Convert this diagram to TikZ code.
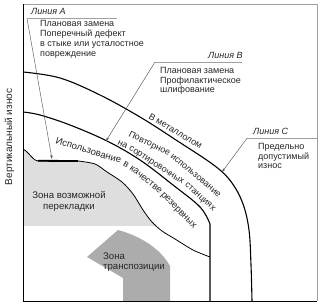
\documentclass[tikz,border=0pt]{standalone}
\usepackage{fontspec}
\setmainfont{Liberation Sans}
\usetikzlibrary{arrows.meta}
\newcommand{\fsz}{\fontsize{9}{10}\selectfont}
\newcommand{\fszb}{\fontsize{9}{9.3}\selectfont}
\newcommand{\fszc}{\fontsize{9.5}{10}\selectfont}
\definecolor{zonelight}{RGB}{222,222,222}
\definecolor{zonedark}{RGB}{172,172,172}
\definecolor{leadgray}{RGB}{85,85,85}
\definecolor{linegray}{RGB}{160,160,160}
\begin{document}
\begin{tikzpicture}[x=1pt,y=-1pt,
  lbl/.style={font=\fsz, inner sep=0pt, text=black!85},
  wd/.style={lbl, anchor=base west},
  wdc/.style={lbl, font=\fszc, anchor=base west},
  curve/.style={line width=1.1pt, line join=round},
  thincurve/.style={line width=0.8pt, line join=round},
  leader/.style={leadgray, line width=0.45pt, -{Stealth[length=4pt,width=2.4pt]}},
  uline/.style={linegray, line width=0.5pt}]
\useasboundingbox (0,0) rectangle (322,304);

% zones
\begin{scope}
  \clip (23,100) rectangle (320,225.5);
  \fill[zonelight] (23,149) .. controls (30,153) and (33,161) .. (38,161) -- (78,161)
    -- plot[smooth] coordinates {(78,161) (95,164) (107,172) (122,182) (133,194) (143,210) (152,222) (162,231) (175,239) (193,250) (210,257)}
    -- (210,300) -- (23,300) -- cycle;
\end{scope}
\fill[zonedark] (118,230) .. controls (140,236) and (160,248) .. (170,266) -- (170,301) -- (123,301) -- (123,278) -- (87,257) -- cycle;

% curves
\draw[curve] plot[smooth, tension=0.6] coordinates {(23,72) (60,78) (100,95) (140,117) (176,140) (215,166) (232,183) (243,204) (249,230) (251,265) (252,301)};
\draw[curve] plot[smooth, tension=0.6] coordinates {(23,112) (40,115) (70,125) (107,141) (140,160) (173,185) (200,207) (210,224)} -- (210,301);
\draw[thincurve] (23,149) .. controls (30,153) and (33,161) .. (38,161) -- (78,161)
    -- plot[smooth] coordinates {(78,161) (95,164) (107,172) (122,182) (133,194) (143,210) (152,222) (162,231) (175,239) (193,250) (210,257)};
\draw[line width=1.8pt] (38,160.8) -- (78,161);

% frame
\draw[linegray, line width=0.6pt] (23,4.5) -- (317,4.5) -- (317,301);
\draw[line width=1pt] (23,4.5) -- (23,301.5) -- (317,301.5);

% labels along the curves
\node[wd, rotate=-31] (scrap) at (148,118) {В металлолом};
\node[wd, rotate=-26] (reuse1) at (128,136) {Повторное};
\node[wd, rotate=-40] (reuse2) at (170,157) {использование};
\node[wd, rotate=-27] (sort1) at (117,144) {на};
\node[wd, rotate=-33] (sort2) at (128.5,149.5) {сортировочных};
\node[wd, rotate=-42] (sort3) at (184.5,185.5) {станциях};
\node[wdc, rotate=-17] (res1) at (55,143.5) {Использование};
\node[wdc, rotate=-30] (res2) at (122.5,165) {в};
\node[wdc, rotate=-39] (res3) at (129,169) {качестве};
\node[wdc, rotate=-46] (res4) at (160.5,195) {резервных};

% Line A
\coordinate (uA) at (27,18.5);
\coordinate (uAe) at (117,18.5);
\coordinate (tipA) at (52,159);
\node[lbl, font={\fsz\itshape}, anchor=base west] (labA) at (31,15) {Линия A};
\node[lbl, align=left, anchor=north west] (txtA) at (40,20.6) {Плановая замена\\Поперечный дефект\\в стыке или усталостное\\повреждение};
\draw[uline] (uA) -- (uAe);
\draw[leader] (uA) -- (tipA);

% Line B
\coordinate (uB) at (155,62);
\coordinate (uBe) at (242,62);
\coordinate (tipB) at (106,141);
\node[lbl, font={\fsz\itshape}, anchor=base west] (labB) at (208,59) {Линия B};
\node[lbl, font=\fszb, align=left, anchor=north west] (txtB) at (160,67.4) {Плановая замена\\Профилактическое\\шлифование};
\draw[uline] (uB) -- (uBe);
\draw[leader] (uB) -- (tipB);

% Line C
\coordinate (uC) at (247,138.3);
\coordinate (uCe) at (317,138.3);
\coordinate (tipC) at (222,172);
\node[lbl, font={\fsz\itshape}, anchor=base west] (labC) at (253,135) {Линия C};
\node[lbl, font=\fszb, align=left, anchor=north west] (txtC) at (258,143.4) {Предельно\\допустимый\\износ};
\draw[uline] (uC) -- (uCe);
\draw[leader] (uC) -- (tipC);

% zone labels
\node[lbl, font={\fontsize{9.6}{11}\selectfont}, align=center, anchor=north] (zone1) at (69,191) {Зона возможной\\перекладки};
\node[lbl, font={\fontsize{9.6}{10}\selectfont}, align=left, anchor=north west] (zone2) at (103,253.1) {Зона\\транспозиции};

% axis label
\node[lbl, font={\fontsize{10}{11}\selectfont}, rotate=90] (ylab) at (9.5,137) {Вертикальный износ};
\end{tikzpicture}
\end{document}
